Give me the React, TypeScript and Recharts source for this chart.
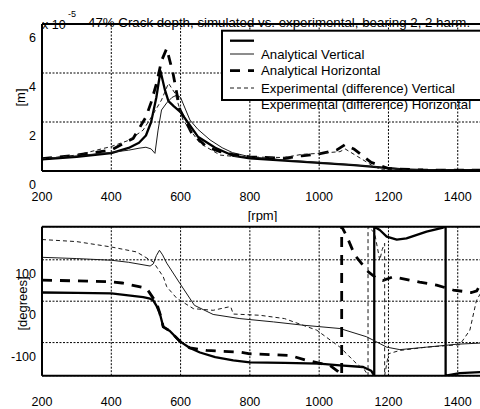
import { LineChart, Line, XAxis, YAxis, CartesianGrid, ReferenceLine, Legend } from 'recharts';

const FONT = '"Liberation Sans", Arial, Helvetica, sans-serif';

const rpmTicks = [200, 400, 600, 800, 1000, 1200, 1400];
const ampTicks = [0, 2, 4, 6];
const phaseTicks = [-100, 0, 100];

const seriesNames = [
  'Analytical Vertical',
  'Analytical Horizontal',
  'Experimental (difference) Vertical',
  'Experimental (difference) Horizontal',
];

// amplitude [x 1e-5 m]
const ampAVRpm = [200, 300, 400, 450, 480, 500, 515, 530, 542, 555, 565, 580, 600, 620, 650, 700, 750, 800, 900, 1000, 1100, 1200, 1250, 1300, 1470];
const ampAV = [0.48, 0.58, 0.73, 0.94, 1.15, 1.45, 2.0, 3.0, 4.08, 3.3, 2.85, 2.65, 2.4, 2.0, 1.4, 0.95, 0.63, 0.52, 0.42, 0.33, 0.24, 0.12, 0.06, 0.04, 0.03];

const ampAHRpm = [200, 300, 400, 450, 480, 500, 515, 526, 535, 545, 560, 575, 589, 600, 627, 650, 685, 720, 750, 800, 900, 1000, 1100, 1200, 1300, 1470];
const ampAH = [0.5, 0.62, 0.76, 0.85, 0.93, 0.97, 0.9, 0.72, 1.67, 2.49, 2.78, 3.0, 3.1, 3.0, 2.08, 1.7, 1.27, 0.95, 0.75, 0.58, 0.45, 0.35, 0.25, 0.12, 0.05, 0.03];

const ampEVRpm = [200, 300, 400, 463, 500, 515, 531, 545, 560, 578, 598, 632, 675, 714, 750, 800, 900, 950, 1000, 1050, 1075, 1100, 1150, 1200, 1300, 1470];
const ampEV = [0.5, 0.65, 0.86, 1.33, 2.2, 2.8, 3.6, 4.5, 5.0, 4.0, 2.5, 1.55, 0.99, 0.79, 0.68, 0.58, 0.52, 0.62, 0.7, 0.85, 1.08, 0.9, 0.35, 0.1, 0.04, 0.03];

const ampEHRpm = [200, 300, 400, 450, 492, 520, 545, 565, 584, 607, 656, 714, 750, 800, 900, 950, 1000, 1060, 1075, 1110, 1150, 1180, 1250, 1470];
const ampEH = [0.5, 0.65, 1.0, 1.25, 1.67, 2.3, 2.9, 3.58, 3.17, 2.08, 1.13, 0.65, 0.6, 0.57, 0.55, 0.68, 0.72, 0.79, 0.9, 0.6, 0.25, 0.05, 0.04, 0.03];

// phase [degrees]
const phAVRpm = [200, 300, 400, 492, 512, 521, 531, 540, 550, 569, 598, 627, 656, 700, 752, 800, 900, 1000, 1060, 1127, 1150, 1159, 1159, 1175, 1195, 1224, 1252, 1310, 1358, 1365, 1365, 1406, 1470];
const phAV = [21, 20, 19, 10, 6, 2, -12, -29, -62, -72, -97, -113, -124, -135, -143, -148, -149, -151, -155, -159, -168, -180, 180, 172, 156, 149, 152, 168, 178, 180, -180, -174, -171];

const phAHRpm = [200, 300, 400, 450, 512, 521, 530, 539, 548, 560, 598, 640, 694, 771, 868, 954, 1060, 1137, 1195, 1233, 1310, 1397, 1470];
const phAH = [106, 103, 99, 94, 85, 90, 110, 123, 112, 92, 43, -10, -32, -42, -50, -58, -66, -86, -111, -117, -111, -104, -101];

const phEVRpm = [200, 300, 400, 431, 502, 531, 540, 550, 569, 598, 627, 675, 771, 800, 916, 964, 1031, 1055, 1065, 1065, 1079, 1103, 1142, 1166, 1184, 1214, 1290, 1339, 1387, 1440, 1455, 1470];
const phEV = [51, 49, 47, 44, 31, -5, -29, -62, -72, -97, -113, -119, -123, -127, -131, -143, -155, -170, -180, 180, 158, 111, 71, 55, 50, 59, 46, 39, 27, 21, 25, 48];

const phEHRpm = [200, 300, 400, 473, 521, 550, 560, 589, 637, 694, 738, 745, 752, 829, 900, 993, 1060, 1108, 1132, 1141, 1141, 1160, 1175, 1182, 1189, 1189, 1200, 1233, 1310, 1406, 1435, 1454, 1470];
const phEH = [149, 144, 131, 119, 95, 59, 35, 7, -18, -22, -14, -14, -31, -34, -42, -70, -111, -151, -167, -180, 180, 165, 99, 125, 140, -180, -127, -119, -111, -105, -70, 2, 25];

const zip = (xs: number[], ys: number[]) => xs.map((x, i) => ({ rpm: x, v: ys[i] }));

const ampSeries = [zip(ampAVRpm, ampAV), zip(ampAHRpm, ampAH), zip(ampEVRpm, ampEV), zip(ampEHRpm, ampEH)];
const phSeries = [zip(phAVRpm, phAV), zip(phAHRpm, phAH), zip(phEVRpm, phEV), zip(phEHRpm, phEH)];

const lineStyles = [
  { stroke: '#000', strokeWidth: 2.3 },
  { stroke: '#1a1a1a', strokeWidth: 1 },
  { stroke: '#000', strokeWidth: 2.8, strokeDasharray: '10 8' },
  { stroke: '#1a1a1a', strokeWidth: 1, strokeDasharray: '4 3' },
];

const txt = { fontFamily: FONT, fill: '#000' };

const XTick = ({ x, y, payload }: any) => (
  <text x={x} y={y + 26} textAnchor="middle" dominantBaseline="central" fontSize={12.5} {...txt}>
    {payload.value}
  </text>
);

const YTick = ({ x, y, payload }: any) => (
  <text x={x - 6} y={y + 14} textAnchor="end" dominantBaseline="central" fontSize={12.5} {...txt}>
    {payload.value}
  </text>
);

const LegendBox = () => (
  <svg width={270} height={90} style={{ overflow: 'visible', display: 'block' }}>
    <rect x={1} y={1.7} width={300} height={69.3} fill="#fff" stroke="#000" strokeWidth={2} />
    {lineStyles.map((s, i) => (
      <line key={i} x1={9} x2={33} y1={[11.7, 25, 41.7, 59][i]} y2={[11.7, 25, 41.7, 59][i]} {...s} />
    ))}
    {seriesNames.map((n, i) => (
      <text key={n} x={40} y={[25, 41.7, 59, 75][i]} dominantBaseline="central" fontSize={13.2} {...txt}>
        {n}
      </text>
    ))}
  </svg>
);

const Title = ({ viewBox }: any) => (
  <g>
    <text x={viewBox.x} y={viewBox.y + 1} dominantBaseline="central" fontSize={12.5} {...txt}>x 10</text>
    <text x={viewBox.x + 26} y={viewBox.y - 10} dominantBaseline="central" fontSize={9} {...txt}>-5</text>
    <text x={viewBox.x + 46} y={viewBox.y - 1.5} dominantBaseline="central" fontSize={13.3} {...txt}>
      47% Crack depth, simulated vs. experimental, bearing 2, 2 harm.
    </text>
  </g>
);

const axisLine = { stroke: '#000', strokeWidth: 2 };

export default function App() {
  return (
    <div style={{ position: 'absolute', left: 0, top: 0, width: 480, height: 409, overflow: 'hidden', background: '#fff' }}>
      <div style={{ position: 'absolute', left: 0, top: 0 }}>
        <LineChart width={490} height={222} margin={{ top: 24, right: 8, bottom: 0, left: 0 }}>
          <CartesianGrid stroke="#000" strokeDasharray="2 1.5" strokeWidth={1} />
          <XAxis
            dataKey="rpm"
            type="number"
            domain={[200, 1470]}
            ticks={rpmTicks}
            interval={0}
            allowDataOverflow
            height={51}
            tickSize={0}
            tickMargin={0}
            tickLine={false}
            axisLine={axisLine}
            tick={<XTick />}
            label={{
              content: () => (
                <text x={262.5} y={215} textAnchor="middle" dominantBaseline="central" fontSize={13} {...txt}>
                  [rpm]
                </text>
              ),
            }}
          />
          <YAxis
            type="number"
            domain={[0, 6]}
            ticks={ampTicks}
            interval={0}
            allowDataOverflow
            width={42}
            tickSize={0}
            tickMargin={0}
            tickLine={false}
            axisLine={axisLine}
            tick={<YTick />}
            label={{
              content: () => (
                <text x={20.5} y={97.5} transform="rotate(-90 20.5 97.5)" textAnchor="middle" dominantBaseline="central" fontSize={13} {...txt}>
                  [m]
                </text>
              ),
            }}
          />
          <ReferenceLine y={6} stroke="#000" strokeWidth={2} label={{ content: Title }} />
          {ampSeries.map((d, i) => (
            <Line
              key={i}
              data={d}
              dataKey="v"
              name={seriesNames[i]}
              type="linear"
              dot={false}
              activeDot={false}
              isAnimationActive={false}
              strokeLinejoin="round"
              {...lineStyles[i]}
            />
          ))}
          <Legend
            layout="vertical"
            align="center"
            verticalAlign="middle"
            wrapperStyle={{ left: 221, top: 29, width: 270, height: 90 }}
            content={() => <LegendBox />}
          />
        </LineChart>
      </div>
      <div style={{ position: 'absolute', left: 0, top: 222 }}>
        <LineChart width={490} height={187} margin={{ top: 4.7, right: 8, bottom: 0, left: 0 }}>
          <CartesianGrid stroke="#000" strokeDasharray="2 1.5" strokeWidth={1} />
          <XAxis
            dataKey="rpm"
            type="number"
            domain={[200, 1470]}
            ticks={rpmTicks}
            interval={0}
            allowDataOverflow
            height={33.3}
            tickSize={0}
            tickMargin={0}
            tickLine={false}
            axisLine={axisLine}
            tick={<XTick />}
          />
          <YAxis
            type="number"
            domain={[-180, 180]}
            ticks={phaseTicks}
            interval={0}
            allowDataOverflow
            width={42}
            tickSize={0}
            tickMargin={0}
            tickLine={false}
            axisLine={axisLine}
            tick={<YTick />}
            label={{
              content: () => (
                <text x={22} y={81.5} transform="rotate(-90 22 81.5)" textAnchor="middle" dominantBaseline="central" fontSize={13} {...txt}>
                  [degrees]
                </text>
              ),
            }}
          />
          <ReferenceLine y={180} stroke="#000" strokeWidth={2} />
          {phSeries.map((d, i) => (
            <Line
              key={i}
              data={d}
              dataKey="v"
              name={seriesNames[i]}
              type="linear"
              dot={false}
              activeDot={false}
              isAnimationActive={false}
              strokeLinejoin="round"
              {...lineStyles[i]}
            />
          ))}
        </LineChart>
      </div>
    </div>
  );
}
